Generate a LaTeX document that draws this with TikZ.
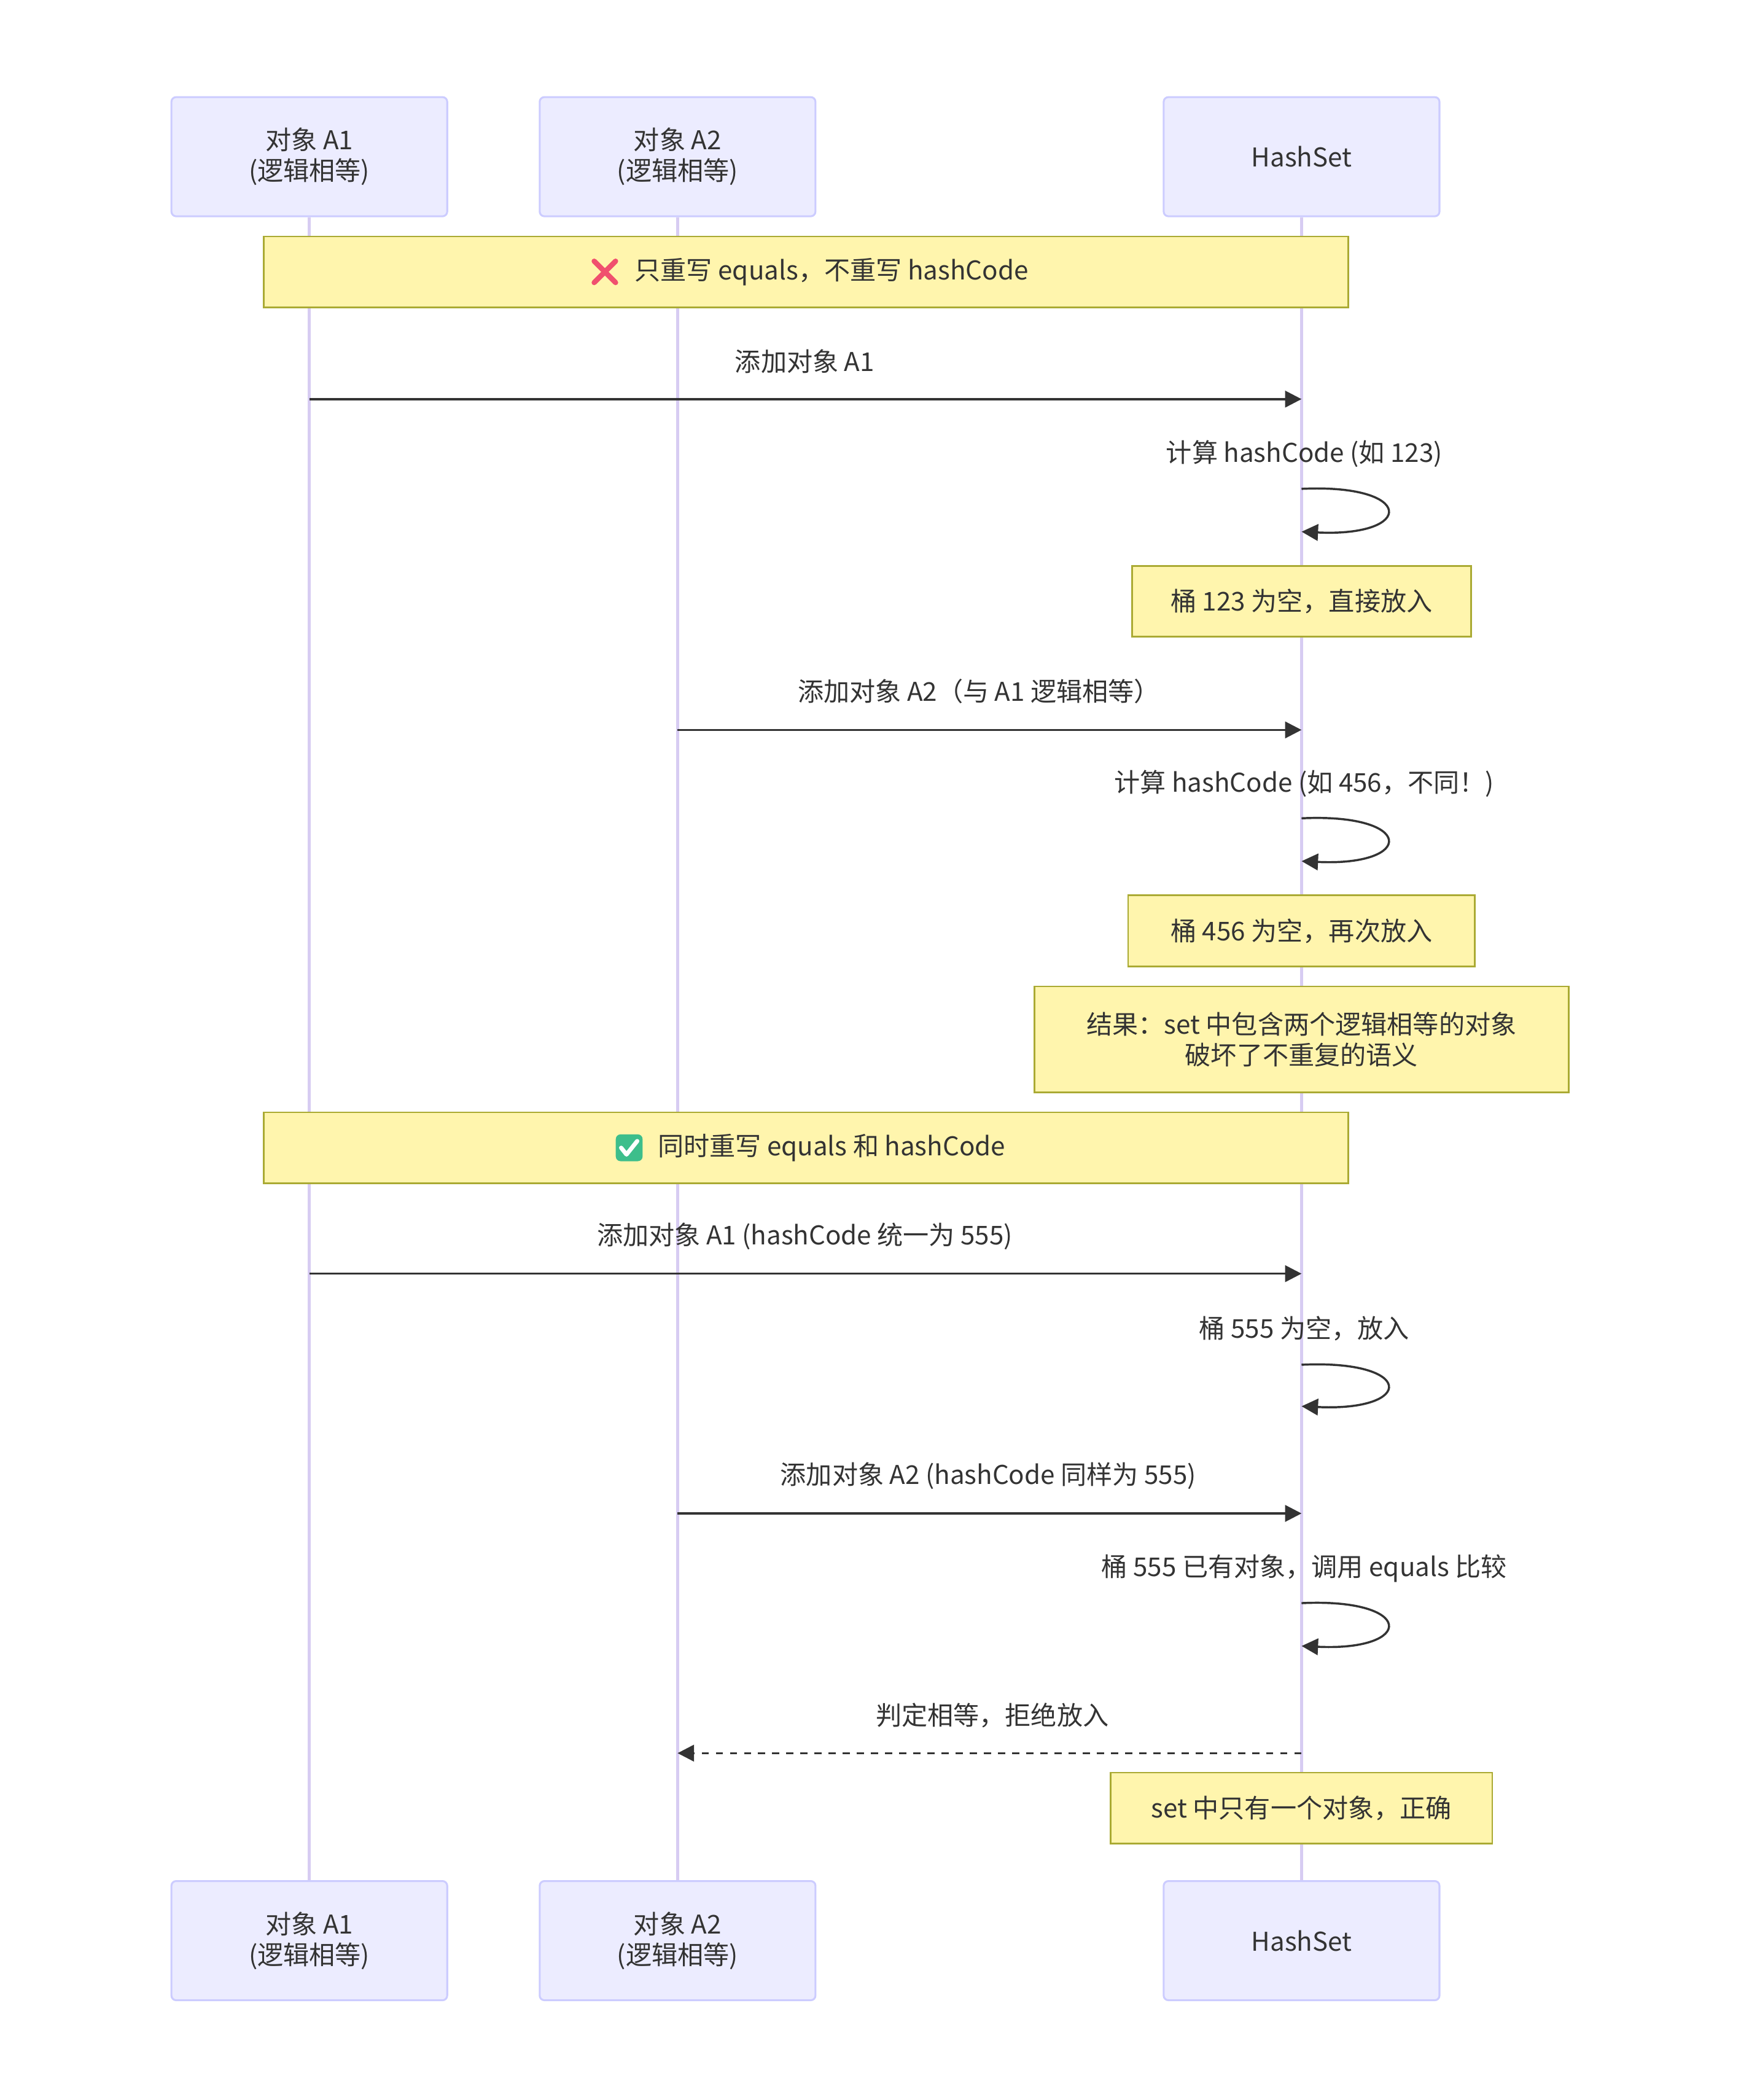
\documentclass[tikz,border=0pt]{standalone}
\usepackage{fontspec}
\setmainfont{Noto Sans CJK SC}
\usetikzlibrary{arrows.meta, positioning, calc}

\definecolor{actorfill}{HTML}{ECECFF}
\definecolor{actorline}{HTML}{CCCCFF}
\definecolor{lifeline}{HTML}{D7CCF2}
\definecolor{notefill}{HTML}{FFF5AD}
\definecolor{noteline}{HTML}{AAAA33}
\definecolor{ink}{HTML}{333333}
\definecolor{crossred}{HTML}{F0506E}
\definecolor{checkgreen}{HTML}{3DBE8B}

\begin{document}
\begin{tikzpicture}[
        x=0.02cm, y=-0.02cm,
        every node/.style={font=\fontsize{11}{13}\selectfont, text=ink},
        actor/.style={draw=actorline, fill=actorfill, line width=0.8pt, rounded corners=2pt,
            minimum width=4.12cm, minimum height=1.78cm, align=center, inner sep=0pt},
        note/.style={draw=noteline, fill=notefill, line width=0.7pt, align=center, inner sep=0pt},
        life/.style={draw=lifeline, line width=1.2pt},
        msg/.style={draw=ink, line width=0.9pt, -{Triangle[length=7pt, width=7pt]}},
        reply/.style={msg, dashed},
        lbl/.style={inner sep=0pt}
    ]
        \useasboundingbox (0,0) rectangle (1300,1568);

        % Teilnehmer oben und unten
        \node[actor] (a1) at (231,117) {对象 A1\\(逻辑相等)};
        \node[actor] (a2) at (506,117) {对象 A2\\(逻辑相等)};
        \node[actor] (hs) at (972,117) {HashSet};
        \node[actor] (a1b) at (231,1449) {对象 A1\\(逻辑相等)};
        \node[actor] (a2b) at (506,1449) {对象 A2\\(逻辑相等)};
        \node[actor] (hsb) at (972,1449) {HashSet};

        % Lebenslinien
        \draw[life] (a1) -- (a1b);
        \draw[life] (a2) -- (a2b);
        \draw[life] (hs) -- (hsb);

        % Abschnitt 1
        \node[note, minimum width=16.2cm, minimum height=1.06cm] (n1) at (602,203) {};
        \node[lbl] (n1t) at (621,203) {只重写 equals，不重写 hashCode};
        \coordinate[left=0.44cm of n1t.west] (x1);
        \draw[crossred, line width=2.2pt, line cap=round]
            ($(x1)+(-8,-8)$) -- ($(x1)+(8,8)$) ($(x1)+(-8,8)$) -- ($(x1)+(8,-8)$);

        \coordinate (m1s) at (231,298);
        \coordinate (m1e) at (972,298);
        \draw[msg] (m1s) -- (m1e);
        \node[lbl] (m1l) at (601,270) {添加对象 A1};

        \node[lbl] (s1l) at (974,339) {计算 hashCode (如 123)};
        \coordinate (s1s) at (972,365);
        \coordinate (s1e) at (972,397);
        \draw[msg] (s1s) .. controls +(85,-4) and +(85,4) .. (s1e);

        \node[note, minimum width=5.06cm, minimum height=1.06cm] (n2) at (972,449) {桶 123 为空，直接放入};

        \coordinate (m2s) at (506,545);
        \coordinate (m2e) at (972,545);
        \draw[msg] (m2s) -- (m2e);
        \node[lbl] (m2l) at (731,516) {添加对象 A2（与 A1 逻辑相等）};

        \node[lbl] (s2l) at (974,585) {计算 hashCode (如 456，不同！)};
        \coordinate (s2s) at (972,611);
        \coordinate (s2e) at (972,643);
        \draw[msg] (s2s) .. controls +(85,-4) and +(85,4) .. (s2e);

        \node[note, minimum width=5.18cm, minimum height=1.06cm] (n3) at (972,695) {桶 456 为空，再次放入};
        \node[note, minimum width=7.98cm, minimum height=1.58cm] (n4) at (972,776)
            {结果：set 中包含两个逻辑相等的对象\\破坏了不重复的语义};

        % Abschnitt 2
        \node[note, minimum width=16.2cm, minimum height=1.06cm] (n5) at (602,857) {};
        \node[lbl] (n5t) at (621,857) {同时重写 equals 和 hashCode};
        \coordinate[left=0.42cm of n5t.west] (c1);
        \fill[checkgreen, rounded corners=2pt] ($(c1)+(-10,-10)$) rectangle ($(c1)+(10,10)$);
        \draw[white, line width=1.8pt, line cap=round, line join=round]
            ($(c1)+(-6,0)$) -- ($(c1)+(-2,5)$) -- ($(c1)+(6,-5)$);

        \coordinate (m3s) at (231,951);
        \coordinate (m3e) at (972,951);
        \draw[msg] (m3s) -- (m3e);
        \node[lbl] (m3l) at (601,923) {添加对象 A1 (hashCode 统一为 555)};

        \node[lbl] (s3l) at (974,992) {桶 555 为空，放入};
        \coordinate (s3s) at (972,1019);
        \coordinate (s3e) at (972,1050);
        \draw[msg] (s3s) .. controls +(85,-4) and +(85,4) .. (s3e);

        \coordinate (m4s) at (506,1130);
        \coordinate (m4e) at (972,1130);
        \draw[msg] (m4s) -- (m4e);
        \node[lbl] (m4l) at (738,1102) {添加对象 A2 (hashCode 同样为 555)};

        \node[lbl] (s4l) at (974,1171) {桶 555 已有对象，调用 equals 比较};
        \coordinate (s4s) at (972,1197);
        \coordinate (s4e) at (972,1229);
        \draw[msg] (s4s) .. controls +(85,-4) and +(85,4) .. (s4e);

        \coordinate (r1s) at (972,1309);
        \coordinate (r1e) at (506,1309);
        \draw[reply] (r1s) -- (r1e);
        \node[lbl] (r1l) at (741,1281) {判定相等，拒绝放入};

        \node[note, minimum width=5.7cm, minimum height=1.06cm] (n6) at (972,1350) {set 中只有一个对象，正确};
    \end{tikzpicture}
\end{document}
